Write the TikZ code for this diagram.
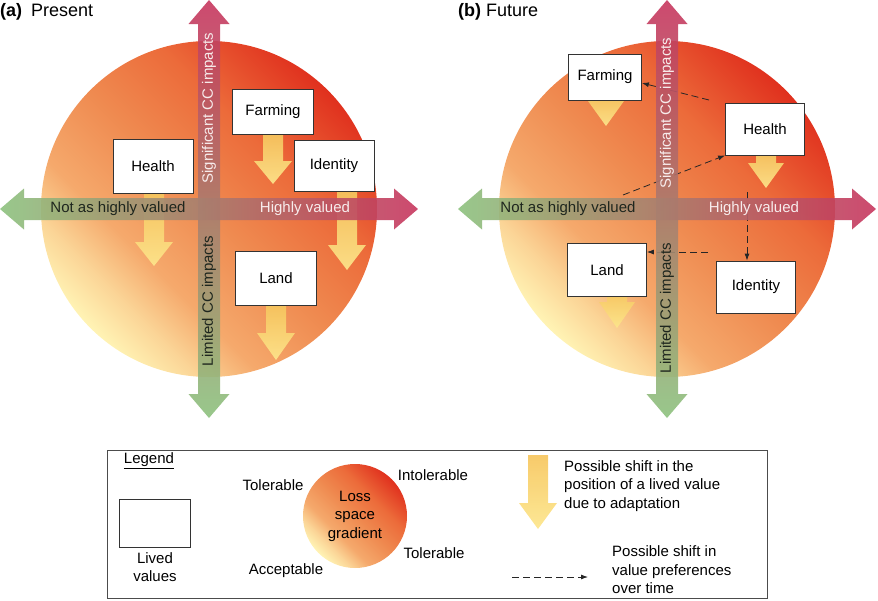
\documentclass[tikz,border=0pt]{standalone}
\usepackage{fontspec}
\setmainfont{Liberation Sans}
\usetikzlibrary{arrows.meta}

\definecolor{lossyel}{HTML}{FFF3B4}
\definecolor{losspale}{HTML}{FBD597}
\definecolor{losslight}{HTML}{F5A96C}
\definecolor{lossorange}{HTML}{EF8A50}
\definecolor{lossdeep}{HTML}{EC6B3A}
\definecolor{lossred}{HTML}{E0311E}
\definecolor{axgreen}{HTML}{8DC27E}
\definecolor{axred}{HTML}{C7365E}
\definecolor{axdark}{HTML}{1E261E}
\definecolor{axlight}{HTML}{F7ECEC}
\definecolor{adapttop}{HTML}{F6C65E}
\definecolor{adaptbot}{HTML}{FDE68C}

\pgfdeclareverticalshading{lossspace}{100bp}{color(0bp)=(lossyel); color(25bp)=(lossyel); color(31bp)=(losspale); color(38bp)=(losslight); color(50bp)=(lossorange); color(62bp)=(lossdeep); color(75bp)=(lossred); color(100bp)=(lossred)}

\begin{document}
\begin{tikzpicture}[x=1pt,y=-1pt,
  every node/.style={inner sep=0pt, font=\fontsize{15}{18.5}\selectfont},
  lived/.style={draw=black!80, line width=0.8pt, fill=white, minimum width=80pt, minimum height=52pt},
  losscircle/.style={shading=lossspace, shading angle=-45},
  impactaxis/.style={top color=axred, bottom color=axgreen, fill opacity=0.9},
  valueaxis/.style={left color=axgreen, right color=axred, fill opacity=0.9},
  adapt/.style={top color=adapttop, bottom color=adaptbot, fill opacity=0.92},
  prefline/.style={draw=black!85, line width=0.8pt, dash pattern=on 7pt off 4pt, -{Latex[length=7pt,width=5pt]}},
  title/.style={anchor=base west, font=\fontsize{18}{20}\selectfont}]
\useasboundingbox (0,0) rectangle (878,600);

% loss space
\shade[losscircle] (209,209) circle (168);
\shade[losscircle] (667,209) circle (168);

% shifts due to adaptation
\shade[adapt] (263,134) -- (283,134) -- (283,161) -- (292,161) -- (273,184) -- (254,161) -- (263,161) -- cycle;
\shade[adapt] (144,193) -- (164,193) -- (164,242) -- (173,242) -- (154,266) -- (135,242) -- (144,242) -- cycle;
\shade[adapt] (337,192) -- (357,192) -- (357,245) -- (366,245) -- (347,270) -- (328,245) -- (337,245) -- cycle;
\shade[adapt] (266,305) -- (286,305) -- (286,333) -- (295,333) -- (276,360) -- (257,333) -- (266,333) -- cycle;
\shade[adapt] (596,95) -- (616,95) -- (616,101) -- (624,101) -- (606,126) -- (588,101) -- (596,101) -- cycle;
\shade[adapt] (756,150) -- (776,150) -- (776,163) -- (784,163) -- (766,188) -- (748,163) -- (756,163) -- cycle;
\shade[adapt] (607,290) -- (627,290) -- (627,302) -- (635,302) -- (617,328) -- (599,302) -- (607,302) -- cycle;

% lived values, present
\node[lived, minimum width=81pt, minimum height=45pt] (farmA) at (273,112) {Farming};
\node[lived, minimum height=54pt] (healthA) at (153,166) {Health};
\node[lived, minimum height=51pt] (identA) at (334,166) {Identity};
\node[lived, minimum width=81pt, minimum height=54pt] (landA) at (276,278) {Land};

% lived values, future
\node[lived, minimum width=73pt, minimum height=46pt] (farmB) at (605,77) {Farming};
\node[lived, minimum width=79pt] (healthB) at (765,129) {Health};
\node[lived, minimum width=79pt, minimum height=53pt] (landB) at (607,270) {Land};
\node[lived, minimum width=79pt] (identB) at (756,287) {Identity};

% shifts in preferences
\coordinate (farmshift) at (709,100);
\coordinate (healthshift) at (623,195);
\coordinate (identshift) at (747,192);
\coordinate (landshift) at (708,252);
\draw[prefline] (farmshift) -- ([yshift=-6pt]farmB.east);
\draw[prefline] (healthshift) -- (healthB.south west);
\draw[prefline] (identshift) -- (identshift |- identB.north);
\draw[prefline] (landshift) -- (landshift -| landB.east);

% axes
\shade[impactaxis] (209,0) -- (229.5,24) -- (220,24) -- (220,394) -- (229.5,394) -- (209,418) -- (188.5,394) -- (198,394) -- (198,24) -- (188.5,24) -- cycle;
\shade[valueaxis] (0,209) -- (24,188.5) -- (24,198) -- (394,198) -- (394,188.5) -- (418,209) -- (394,229.5) -- (394,220) -- (24,220) -- (24,229.5) -- cycle;
\shade[impactaxis] (667,0) -- (687.5,24) -- (678,24) -- (678,394) -- (687.5,394) -- (667,418) -- (646.5,394) -- (656,394) -- (656,24) -- (646.5,24) -- cycle;
\shade[valueaxis] (458,209) -- (482,188.5) -- (482,198) -- (852,198) -- (852,188.5) -- (876,209) -- (852,229.5) -- (852,220) -- (482,220) -- (482,229.5) -- cycle;

\node[text=axdark] (lowA) at (118,209) {Not as highly valued};
\node[text=axlight] (highA) at (305,209) {Highly valued};
\node[text=axlight, rotate=90] (sigA) at (209,108) {Significant CC impacts};
\node[text=axdark, rotate=90] (limA) at (209,301) {Limited CC impacts};
\node[text=axdark] (lowB) at (568,209) {Not as highly valued};
\node[text=axlight] (highB) at (754,209) {Highly valued};
\node[text=axlight, rotate=90] (sigB) at (667,113) {Significant CC impacts};
\node[text=axdark, rotate=90] (limB) at (667,308) {Limited CC impacts};

\node[title] (titleA) at (0,16) {\textbf{(a)}\hspace{9pt}Present};
\node[title] (titleB) at (458,16) {\textbf{(b)} Future};

% legend
\draw[draw=black!70, line width=0.8pt] (107,450) rectangle (767,598);
\node (legendtitle) at (149,461) {\underline{Legend}};
\node[lived, minimum width=71pt, minimum height=48pt] (legendbox) at (155,523) {};
\node[align=center] (legendboxtext) at (155,567) {Lived\\values};
\shade[losscircle] (355,516) circle (52);
\node[align=center] (gradtext) at (355,516) {Loss\\space\\gradient};
\node (toltl) at (273,485) {Tolerable};
\node (accept) at (286,571) {Acceptable};
\node (intol) at (433,475) {Intolerable};
\node (tolbr) at (434,553) {Tolerable};
\shade[adapt] (528,455) -- (548,455) -- (548,503) -- (557,503) -- (538,529) -- (519,503) -- (528,503) -- cycle;
\node[align=left, anchor=west] (adapttext) at (564,486) {Possible shift in the\\position of a lived value\\due to adaptation};
\coordinate (prefa) at (512,577);
\coordinate (prefb) at (588,577);
\draw[prefline] (prefa) -- (prefb);
\node[align=left, anchor=west] (preftext) at (612,570) {Possible shift in\\value preferences\\over time};
\end{tikzpicture}
\end{document}
